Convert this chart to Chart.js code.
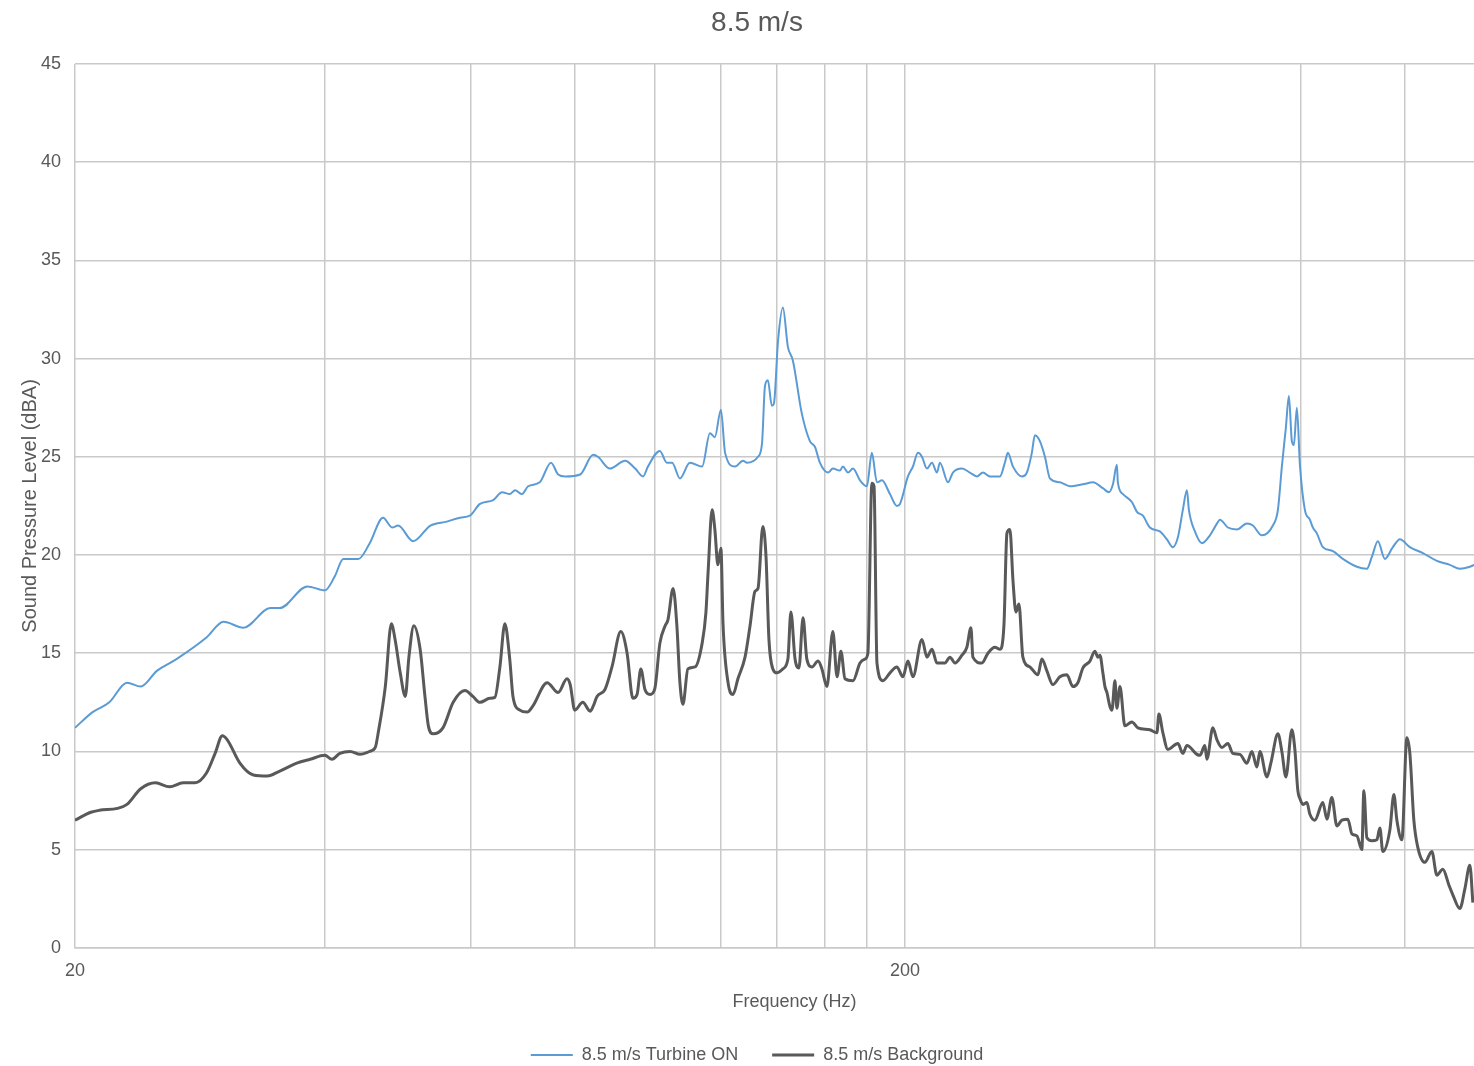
<!DOCTYPE html>
<html lang="en">
<head>
  <meta charset="UTF-8">
  <title>8.5 m/s Sound Pressure Level</title>
  <script src="https://cdn.jsdelivr.net/npm/chart.js"></script>
  <style>
    html, body {
      margin: 0;
      padding: 0;
      overflow: hidden;
      background: #fff;
    }

    /* the source chart is cropped on the right, so the canvas runs past the window */
    #chartContainer {
      width: 1514px;
      height: 1066px;
    }
  </style>
</head>
<body>

  <div id="chartContainer">
    <canvas id="splChart"></canvas>
  </div>

  <script>
    // gridlines on the log axis, and the ones that carry a label
    const xGridValues = [20, 40, 60, 80, 100, 120, 140, 160, 180, 200, 400, 600, 800, 1000];
    const xTickLabels = [20, 200];
    const yTickValues = [0, 5, 10, 15, 20, 25, 30, 35, 40, 45];

    // 8.5 m/s Turbine ON
    const freqOn = [
      20.0, 21.0, 22.0, 23.1, 24.0, 25.1, 26.5, 28.8, 30.2, 31.9,
      34.4, 35.3, 38.1, 40.0, 41.1, 42.1, 43.9, 45.3, 47.0, 48.2,
      49.0, 51.1, 53.6, 56.1, 58.2, 59.8, 61.5, 63.8, 65.4, 66.8,
      67.8, 69.1, 70.3, 72.6, 74.9, 76.4, 77.9, 81.2, 84.2, 85.3,
      88.2, 92.0, 94.6, 96.7, 98.0, 101.3, 103.3, 104.8, 107.1, 110.1,
      113.9, 116.4, 118.0, 120.0, 121.4, 124.8, 127.6, 129.0, 133.0, 134.5,
      135.6, 136.7, 138.2, 139.0, 140.6, 142.5, 144.5, 146.5, 150.2, 153.6,
      155.8, 157.9, 161.5, 163.7, 166.9, 168.3, 170.7, 173.1, 176.5, 179.9,
      182.4, 185.0, 187.6, 191.8, 195.5, 197.2, 201.6, 204.4, 207.3, 209.6,
      212.5, 215.5, 218.5, 220.3, 225.3, 228.4, 234.2, 239.4, 244.1, 248.2,
      253.1, 260.2, 263.8, 266.0, 269.8, 276.6, 280.4, 284.3, 286.7, 290.7,
      294.8, 298.9, 307.3, 316.0, 327.6, 336.8, 346.2, 352.1, 356.0, 359.9,
      360.9, 366.0, 375.2, 380.5, 386.9, 394.4, 405.5, 413.5, 420.4, 426.3,
      432.2, 437.1, 439.5, 446.9, 455.6, 465.9, 475.0, 479.0, 489.7, 502.1,
      516.2, 524.9, 538.1, 554.8, 562.6, 568.8, 575.2, 580.0, 584.8, 588.1,
      593.0, 598.0, 606.3, 614.8, 619.9, 626.8, 637.3, 655.3, 673.7, 700.4,
      720.1, 730.1, 742.4, 756.9, 773.9, 789.1, 811.3, 841.1, 874.4, 906.5,
      932.0, 958.2, 970.0
    ];
    const levelOn = [
      11.2, 12.0, 12.5, 13.5, 13.3, 14.1, 14.7, 15.8, 16.6, 16.3,
      17.3, 17.3, 18.4, 18.2, 18.9, 19.8, 19.8, 20.6, 21.9, 21.4,
      21.5, 20.7, 21.5, 21.7, 21.9, 22.0, 22.6, 22.8, 23.2, 23.1,
      23.3, 23.1, 23.5, 23.7, 24.7, 24.1, 24.0, 24.1, 25.1, 25.0,
      24.4, 24.8, 24.4, 24.0, 24.5, 25.3, 24.7, 24.7, 23.9, 24.7,
      24.5, 26.2, 26.0, 27.4, 25.2, 24.5, 24.8, 24.7, 25.0, 25.7,
      28.6, 28.9, 27.6, 27.7, 30.9, 32.6, 30.6, 29.9, 27.2, 25.8,
      25.5, 24.7, 24.2, 24.4, 24.3, 24.5, 24.2, 24.4, 23.8, 23.5,
      25.2, 23.7, 23.8, 23.1, 22.5, 22.6, 24.0, 24.5, 25.2, 25.0,
      24.4, 24.7, 24.2, 24.7, 23.7, 24.2, 24.4, 24.2, 24.0, 24.2,
      24.0, 24.0, 24.7, 25.2, 24.5, 24.0, 24.2, 25.2, 26.1, 25.8,
      25.0, 23.9, 23.7, 23.5, 23.6, 23.7, 23.4, 23.2, 23.6, 24.6,
      23.7, 23.1, 22.7, 22.2, 22.0, 21.4, 21.2, 20.8, 20.4, 20.9,
      22.3, 23.3, 22.3, 21.2, 20.6, 21.0, 21.6, 21.8, 21.4, 21.3,
      21.6, 21.5, 21.0, 21.5, 22.3, 24.5, 26.5, 28.1, 25.8, 25.6,
      27.5, 24.6, 22.3, 21.8, 21.4, 21.1, 20.4, 20.2, 19.8, 19.4,
      19.3, 19.9, 20.7, 19.8, 20.4, 20.8, 20.4, 20.1, 19.7, 19.5,
      19.3, 19.4, 19.5
    ];

    // 8.5 m/s Background
    const freqBg = [
      20.0, 20.9, 21.4, 22.5, 23.1, 24.0, 25.0, 26.0, 27.0, 27.9,
      28.8, 29.5, 30.1, 30.5, 31.6, 32.8, 34.1, 35.3, 37.0, 38.4,
      40.0, 40.8, 41.7, 42.9, 44.1, 45.3, 46.0, 46.4, 47.3, 48.1,
      48.6, 49.3, 50.0, 50.5, 51.2, 52.1, 52.8, 53.3, 54.0, 55.5,
      57.1, 59.0, 60.3, 61.5, 63.2, 64.1, 65.0, 65.9, 66.8, 67.4,
      68.7, 70.1, 71.2, 74.1, 76.4, 78.3, 79.0, 80.0, 81.8, 83.5,
      84.2, 85.1, 87.0, 88.7, 90.9, 92.5, 94.0, 95.1, 96.1, 97.2,
      98.6, 99.9, 101.3, 102.8, 103.6, 105.1, 106.2, 107.1, 108.0, 109.5,
      111.7, 113.9, 115.1, 115.8, 117.1, 118.0, 119.0, 120.0, 120.7, 122.4,
      124.1, 125.8, 128.3, 130.1, 131.9, 133.0, 134.8, 136.0, 137.1, 138.6,
      140.2, 142.5, 144.5, 145.7, 147.4, 149.0, 150.7, 152.3, 154.5, 157.1,
      158.8, 161.0, 163.7, 165.6, 167.4, 169.3, 173.1, 176.5, 178.9, 180.4,
      182.4, 183.5, 185.0, 188.1, 191.8, 195.5, 198.8, 201.6, 204.4, 209.6,
      212.5, 215.5, 218.5, 223.4, 226.5, 229.7, 234.2, 237.4, 240.1, 241.4,
      247.5, 251.7, 256.6, 260.2, 263.1, 265.3, 267.5, 269.8, 272.0, 274.3,
      277.3, 282.8, 289.1, 292.3, 296.4, 301.4, 307.3, 313.3, 318.6, 323.0,
      327.6, 334.0, 338.6, 341.5, 343.4, 346.2, 348.2, 350.1, 353.0, 355.0,
      358.0, 359.9, 363.0, 368.0, 375.2, 381.5, 394.4, 402.2, 404.4, 408.9,
      414.6, 426.3, 432.2, 437.1, 449.4, 453.1, 459.4, 462.0, 469.7, 475.0,
      481.6, 489.7, 496.5, 506.3, 516.2, 523.4, 530.7, 535.2, 545.7, 551.7,
      562.6, 568.8, 575.2, 584.8, 589.7, 594.6, 598.0, 602.9, 609.7, 614.8,
      623.4, 637.3, 644.5, 653.4, 662.6, 671.8, 683.1, 690.7, 700.4, 710.1,
      714.1, 720.1, 730.1, 740.3, 746.5, 752.7, 767.5, 776.1, 782.6, 793.5,
      804.6, 811.3, 820.3, 829.5, 845.8, 862.3, 874.4, 889.0, 904.0, 914.0,
      932.0, 945.0, 958.2, 966.2
    ];
    const levelBg = [
      6.5, 6.9, 7.0, 7.1, 7.3, 8.1, 8.4, 8.2, 8.4, 8.4,
      8.9, 9.9, 10.8, 10.6, 9.4, 8.8, 8.75, 9.0, 9.4, 9.6,
      9.8, 9.6, 9.9, 10.0, 9.85, 10.0, 10.2, 11.0, 13.3, 16.5,
      15.7, 14.0, 12.8, 14.8, 16.4, 15.2, 12.8, 11.3, 10.9, 11.2,
      12.5, 13.1, 12.8, 12.5, 12.7, 12.75, 14.3, 16.5, 14.7, 12.8,
      12.1, 12.0, 12.3, 13.5, 13.0, 13.7, 13.4, 12.1, 12.5, 12.05,
      12.3, 12.8, 13.15, 14.3, 16.1, 15.0, 12.7, 12.9, 14.2, 13.15,
      12.9, 13.2, 15.5, 16.4, 16.7, 18.3, 16.4, 13.5, 12.4, 14.2,
      14.3, 15.5, 17.05, 19.1, 22.3, 21.3, 19.5, 20.35, 16.5, 13.5,
      12.9, 13.7, 14.8, 16.4, 18.15, 18.3, 21.45, 19.9, 15.7, 14.2,
      14.0, 14.2, 14.7, 17.1, 14.7, 14.25, 16.8, 14.7, 14.3, 14.6,
      14.2, 13.3, 16.1, 13.8, 15.1, 13.7, 13.6, 14.5, 14.7, 15.0,
      23.65, 23.5, 14.5, 13.6, 14.0, 14.3, 13.8, 14.6, 13.8, 15.7,
      14.8, 15.2, 14.5, 14.5, 14.8, 14.5, 14.9, 15.3, 16.3, 14.8,
      14.5, 15.0, 15.3, 15.2, 16.4, 21.1, 21.3, 18.7, 17.1, 17.5,
      14.8, 14.3, 13.9, 14.7, 14.1, 13.4, 13.8, 13.9, 13.3, 13.5,
      14.25, 14.6, 15.1, 14.8, 14.9, 14.0, 13.3, 13.0, 12.3, 12.1,
      13.6, 12.2, 13.3, 11.3, 11.5, 11.2, 11.1, 10.95, 11.9, 10.95,
      10.1, 10.4, 9.9, 10.3, 9.85, 9.8, 10.3, 9.6, 11.2, 10.6,
      10.2, 10.4, 9.9, 9.85, 9.4, 10.0, 9.2, 10.0, 8.7, 9.4,
      10.9, 10.0, 8.7, 11.1, 10.1, 8.0, 7.6, 7.3, 7.4, 6.8,
      6.5, 7.4, 6.55, 7.65, 6.2, 6.5, 6.55, 5.8, 5.7, 5.0,
      8.0, 5.6, 5.45, 5.5, 6.1, 4.9, 6.0, 7.8, 6.5, 5.5,
      10.7, 9.9, 6.5, 5.1, 4.35, 4.9, 3.7, 4.0, 3.2, 2.7,
      2.0, 3.0, 4.2, 2.3
    ];

    const textColor = '#595959';
    const gridColor = '#c9c9c9';
    const fontFamily = "'Liberation Sans', Arial, sans-serif";

    const toPoints = (xs, ys) => xs.map((x, i) => ({ x: x, y: ys[i] }));

    const ctx = document.getElementById('splChart').getContext('2d');

    const config = {
      type: 'line',
      data: {
        datasets: [{
          label: '8.5 m/s Turbine ON',
          data: toPoints(freqOn, levelOn),
          borderColor: '#5b9bd5',
          backgroundColor: '#5b9bd5',
          borderWidth: 2,
          pointRadius: 0,
          cubicInterpolationMode: 'monotone'
        }, {
          label: '8.5 m/s Background',
          data: toPoints(freqBg, levelBg),
          borderColor: '#595959',
          backgroundColor: '#595959',
          borderWidth: 3,
          pointRadius: 0,
          cubicInterpolationMode: 'monotone'
        }]
      },
      options: {
        responsive: true,
        maintainAspectRatio: false,
        animation: false,
        devicePixelRatio: 1,
        layout: {
          padding: { left: 0, right: 0, top: 0, bottom: -8 }
        },
        plugins: {
          title: {
            display: true,
            text: '8.5 m/s',
            color: textColor,
            font: { family: fontFamily, size: 28, weight: 'normal' },
            padding: { top: 6, bottom: 24.4 }
          },
          legend: {
            position: 'bottom',
            labels: {
              usePointStyle: true,
              pointStyle: 'line',
              pointStyleWidth: 42,
              padding: 34,
              color: textColor,
              font: { family: fontFamily, size: 18 }
            }
          },
          tooltip: { enabled: false }
        },
        scales: {
          x: {
            type: 'logarithmic',
            min: 20,
            max: 1083,
            afterBuildTicks: (scale) => {
              scale.ticks = xGridValues.map(v => ({ value: v }));
            },
            ticks: {
              autoSkip: false,
              maxRotation: 0,
              padding: 12,
              color: textColor,
              font: { family: fontFamily, size: 18 },
              callback: (value) => xTickLabels.includes(value) ? String(value) : ''
            },
            grid: { color: gridColor, lineWidth: 1.5, drawTicks: false },
            border: { display: true, color: gridColor, width: 1.5 },
            title: {
              display: true,
              text: 'Frequency (Hz)',
              color: textColor,
              font: { family: fontFamily, size: 18 },
              padding: { top: -2, bottom: -1 }
            }
          },
          y: {
            min: 0,
            max: 45,
            afterBuildTicks: (scale) => {
              scale.ticks = yTickValues.map(v => ({ value: v }));
            },
            afterFit: (scale) => {
              scale.width = 75;
            },
            ticks: {
              padding: 14,
              color: textColor,
              font: { family: fontFamily, size: 18 }
            },
            grid: { color: gridColor, lineWidth: 1.5, drawTicks: false },
            border: { display: false },
            title: {
              display: true,
              text: 'Sound Pressure Level (dBA)',
              color: textColor,
              font: { family: fontFamily, size: 20 },
              padding: { top: 18, bottom: 0 }
            }
          }
        }
      }
    };

    new Chart(ctx, config);
  </script>

</body>
</html>
